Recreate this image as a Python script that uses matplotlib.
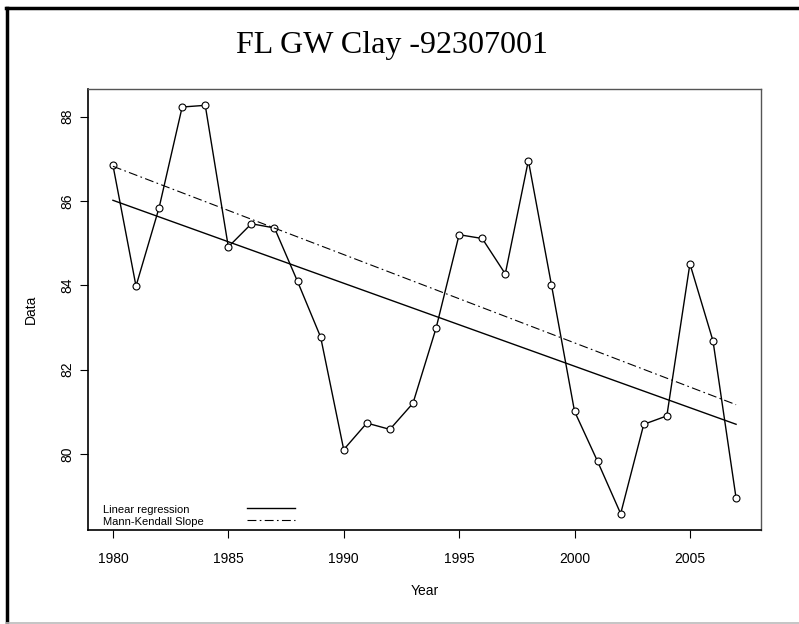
import matplotlib
matplotlib.use("Agg")
import matplotlib.pyplot as plt
from matplotlib.lines import Line2D
import numpy as np

years = list(range(1980, 2008))
values = [86.85, 83.98, 85.84, 88.23, 88.27, 84.91, 85.46, 85.36, 84.09, 82.77,
          80.10, 80.73, 80.58, 81.20, 82.98, 85.20, 85.11, 84.27, 86.96, 84.01,
          81.01, 79.82, 78.58, 80.70, 80.90, 84.51, 82.68, 78.95]
x_ticks = [1980, 1985, 1990, 1995, 2000, 2005]
y_ticks = [80, 82, 84, 86, 88]
legend_labels = ["Linear regression", "Mann-Kendall Slope"]

x = np.array(years, dtype=float)
y = np.array(values)

# linear regression
slope, intercept = np.polyfit(x, y, 1)
lin_fit = slope * x + intercept

# Sen / Mann-Kendall slope
pair_slopes = []
for i in range(len(x)):
    for j in range(i + 1, len(x)):
        pair_slopes.append((y[j] - y[i]) / (x[j] - x[i]))
sen = np.median(pair_slopes)
sen_int = np.median(y) - sen * np.median(x)
mk_fit = sen * x + sen_int

dashdot = (0, (8, 3, 1.5, 3))

plt.rcParams['font.family'] = ['Liberation Sans', 'DejaVu Sans']

fig = plt.figure(figsize=(7.99, 6.24), dpi=100)
ax = fig.add_axes([88 / 799, 1 - 530 / 624, (761 - 88) / 799, (530 - 89) / 624])

ax.plot(x, y, color="black", lw=1.0, marker="o", markersize=5,
        markerfacecolor="white", markeredgewidth=0.8)
ax.plot(x, lin_fit, color="black", lw=1.0)
ax.plot(x, mk_fit, color="black", lw=0.8, linestyle=dashdot)

pad_x = (x.max() - x.min()) * 0.04
pad_y = (y.max() - y.min()) * 0.04
ax.set_xlim(x.min() - pad_x, x.max() + pad_x)
ax.set_ylim(y.min() - pad_y, y.max() + pad_y)

ax.set_xticks(x_ticks)
ax.set_yticks(y_ticks)
ax.set_xticklabels([str(t) for t in x_ticks], fontsize=10)
ax.set_yticklabels([str(t) for t in y_ticks], fontsize=10, rotation=90, va="center")
ax.tick_params(direction="out", length=6, width=0.8)
ax.tick_params(axis="x", pad=10)
ax.tick_params(axis="y", pad=4)

for side in ["left", "bottom"]:
    ax.spines[side].set_linewidth(1.2)
    ax.spines[side].set_color("black")
for side in ["top", "right"]:
    ax.spines[side].set_linewidth(1.0)
    ax.spines[side].set_color("#555555")

ax.set_xlabel("Year", fontsize=10, labelpad=13)
ax.set_ylabel("Data", fontsize=10, labelpad=16)

# legend, R style without frame, drawn by hand
leg_text_y = [0.046, 0.019]
leg_line_y = [0.050, 0.023]
leg_styles = ["-", dashdot]
leg_widths = [1.0, 0.8]
for lab, ty, ly, ls, lw in zip(legend_labels, leg_text_y, leg_line_y, leg_styles, leg_widths):
    ax.text(0.022, ty, lab, transform=ax.transAxes, fontsize=8, ha="left", va="center")
    ax.plot([0.236, 0.307], [ly, ly], transform=ax.transAxes, color="black",
            lw=lw, linestyle=ls, clip_on=False)

fig.text(392 / 799, 1 - 45 / 624, "FL GW Clay -92307001", ha="center", va="center",
         fontsize=23, family=["Liberation Serif", "DejaVu Serif"])

# outer frame of the figure
fig.add_artist(Line2D([7 / 799, 7 / 799], [1 - 8 / 624, 1 - 622 / 624],
                      transform=fig.transFigure, color="black", lw=2.5))
fig.add_artist(Line2D([6 / 799, 799 / 799], [1 - 8 / 624, 1 - 8 / 624],
                      transform=fig.transFigure, color="black", lw=2.5))
fig.add_artist(Line2D([6 / 799, 799 / 799], [1 - 622.5 / 624, 1 - 622.5 / 624],
                      transform=fig.transFigure, color="#bbbbbb", lw=1.2))

fig.savefig("out.png", dpi=100)
